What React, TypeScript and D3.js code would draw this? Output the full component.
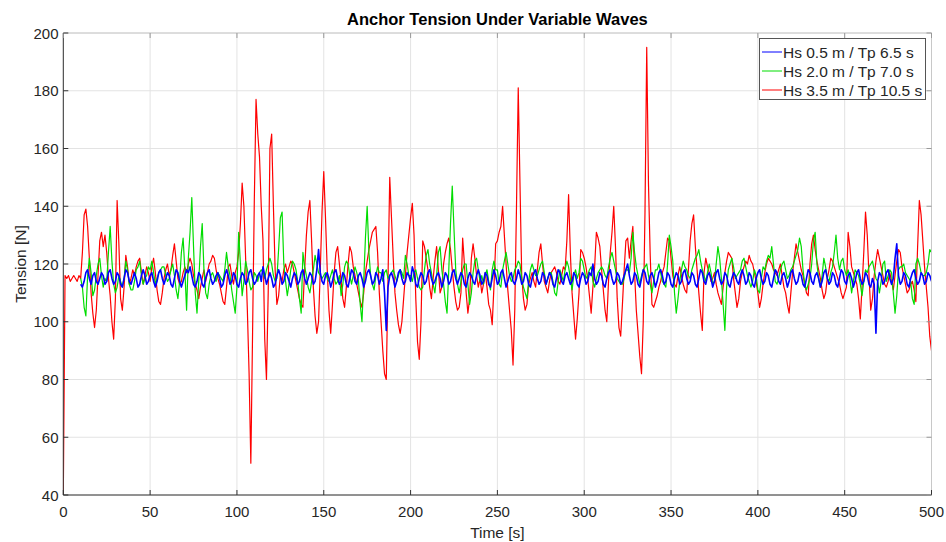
import React from "react";
import * as d3 from "d3";

// chart text
const chartTitle = "Anchor Tension Under Variable Waves";
const xLabel = "Time [s]";
const yLabel = "Tension [N]";
const xTicks = [0, 50, 100, 150, 200, 250, 300, 350, 400, 450, 500];
const yTicks = [40, 60, 80, 100, 120, 140, 160, 180, 200];
const seriesNames = ["Hs 0.5 m / Tp 6.5 s", "Hs 2.0 m / Tp 7.0 s", "Hs 3.5 m / Tp 10.5 s"];

// sampling of the series (seconds)
const sampleStep = 1;
const blueStart = 10;
const greenStart = 10;
const redStart = 0;

// Hs 0.5 m / Tp 6.5 s, t = 10..500 s
const blueTension = [
  113, 112, 114, 117, 118, 115, 113, 116, 117, 114,
  113, 115, 117, 116, 113, 114, 117, 118, 115, 113,
  114, 117, 116, 113, 112, 115, 118, 117, 114, 113,
  115, 117, 115, 112, 113, 116, 118, 116, 113, 114,
  116, 117, 114, 112, 114, 117, 118, 115, 113, 115,
  117, 116, 113, 112, 115, 118, 117, 114, 112, 114,
  116, 118, 117, 119, 116, 113, 112, 114, 117, 116,
  113, 112, 115, 117, 118, 115, 113, 114, 116, 117,
  115, 112, 113, 116, 118, 116, 113, 114, 117, 116,
  113, 112, 115, 117, 116, 113, 114, 117, 118, 115,
  113, 114, 116, 117, 114, 119, 116, 113, 115, 117,
  115, 112, 113, 116, 118, 116, 113, 114, 117, 116,
  114, 112, 115, 117, 116, 113, 114, 117, 118, 115,
  113, 115, 117, 116, 113, 114, 118, 125, 117, 114,
  113, 116, 117, 115, 112, 114, 117, 118, 115, 113,
  114, 117, 116, 113, 112, 115, 118, 117, 114, 113,
  116, 117, 115, 112, 114, 117, 118, 116, 113, 114,
  117, 116, 113, 115, 118, 110, 97, 112, 116, 117,
  115, 112, 114, 117, 118, 115, 113, 114, 117, 116,
  114, 119, 117, 113, 112, 115, 117, 116, 113, 114,
  117, 118, 115, 113, 114, 116, 117, 115, 112, 114,
  117, 116, 113, 114, 117, 118, 115, 113, 115, 117,
  116, 113, 112, 115, 117, 116, 114, 113, 116, 118,
  116, 113, 114, 117, 116, 113, 112, 115, 118, 116,
  113, 114, 117, 118, 115, 112, 114, 116, 117, 114,
  113, 115, 118, 116, 113, 114, 117, 116, 113, 112,
  115, 117, 118, 115, 113, 114, 117, 116, 113, 115,
  117, 116, 113, 112, 115, 118, 117, 114, 113, 116,
  117, 115, 113, 114, 117, 116, 113, 112, 115, 117,
  116, 113, 114, 117, 116, 120, 115, 113, 114, 117,
  116, 113, 112, 115, 117, 118, 115, 113, 114, 117,
  116, 113, 114, 116, 118, 120, 116, 113, 114, 117,
  116, 113, 112, 115, 118, 117, 114, 113, 116, 117,
  115, 112, 114, 117, 118, 116, 113, 114, 117, 116,
  113, 112, 115, 117, 116, 113, 114, 117, 118, 115,
  113, 114, 117, 116, 113, 112, 115, 118, 117, 114,
  113, 116, 117, 115, 112, 114, 117, 118, 115, 113,
  114, 117, 116, 113, 112, 115, 117, 116, 114, 113,
  116, 118, 116, 113, 114, 117, 116, 113, 112, 115,
  117, 118, 115, 113, 114, 117, 116, 113, 112, 115,
  118, 117, 114, 113, 116, 117, 115, 112, 114, 117,
  118, 115, 113, 114, 117, 116, 113, 112, 115, 118,
  117, 114, 113, 116, 117, 115, 112, 114, 117, 118,
  115, 113, 114, 117, 116, 113, 112, 115, 118, 117,
  114, 113, 116, 117, 115, 112, 114, 117, 118, 115,
  113, 114, 117, 116, 113, 112, 115, 113, 96, 114,
  117, 116, 113, 114, 117, 118, 115, 113, 115, 122,
  127, 116, 113, 114, 117, 116, 113, 112, 115, 117,
  118, 115, 113, 114, 117, 116, 113, 114, 117, 116,
  114,
];

// Hs 2.0 m / Tp 7.0 s, t = 10..500 s
const greenTension = [
  115, 112, 105, 102, 116, 122, 117, 109, 111, 116,
  120, 122, 116, 112, 115, 114, 124, 133, 121, 113,
  110, 112, 116, 114, 112, 115, 121, 118, 113, 111,
  111, 114, 118, 119, 121, 116, 113, 115, 116, 119,
  118, 121, 117, 113, 115, 117, 118, 119, 119, 116,
  114, 115, 118, 120, 116, 111, 108, 114, 124, 129,
  118, 104, 122, 131, 143, 126, 110, 103, 114, 126,
  134, 118, 110, 108, 113, 116, 117, 115, 114, 117,
  116, 115, 114, 118, 124, 119, 116, 111, 107, 103,
  112, 131, 120, 109, 114, 121, 118, 114, 111, 112,
  117, 116, 114, 117, 118, 117, 115, 118, 120, 122,
  120, 116, 114, 115, 125, 136, 138, 120, 114, 109,
  113, 118, 121, 120, 118, 114, 108, 103, 124, 119,
  116, 112, 110, 114, 118, 123, 120, 117, 116, 115,
  116, 117, 115, 114, 116, 118, 115, 113, 114, 116,
  109, 113, 119, 121, 120, 116, 113, 116, 119, 117,
  114, 106, 100, 114, 129, 140, 124, 116, 113, 111,
  116, 119, 117, 117, 114, 117, 118, 115, 116, 117,
  118, 116, 114, 116, 118, 117, 115, 123, 120, 116,
  116, 114, 117, 118, 115, 112, 111, 112, 118, 123,
  125, 120, 117, 113, 110, 116, 124, 126, 118, 113,
  107, 103, 118, 134, 147, 132, 118, 113, 110, 114,
  118, 120, 120, 113, 106, 110, 117, 121, 122, 118,
  114, 116, 113, 116, 118, 114, 111, 118, 121, 118,
  118, 113, 112, 118, 121, 124, 120, 116, 114, 115,
  118, 119, 121, 120, 115, 112, 110, 108, 114, 118,
  120, 118, 116, 116, 118, 120, 121, 117, 113, 115,
  117, 117, 114, 110, 109, 114, 118, 116, 114, 118,
  121, 119, 115, 111, 116, 118, 115, 117, 122, 121,
  118, 115, 116, 118, 119, 114, 112, 115, 117, 118,
  119, 118, 116, 115, 119, 122, 124, 121, 118, 115,
  114, 113, 113, 115, 118, 118, 117, 122, 131, 124,
  119, 116, 113, 116, 118, 119, 120, 116, 113, 110,
  114, 118, 118, 120, 117, 114, 113, 112, 120, 130,
  126, 121, 110, 103, 108, 114, 118, 121, 119, 118,
  116, 115, 118, 120, 122, 123, 125, 121, 118, 116,
  114, 117, 120, 117, 113, 114, 120, 126, 122, 115,
  106, 97, 112, 118, 120, 122, 119, 115, 116, 117,
  118, 121, 122, 119, 116, 114, 112, 114, 118, 116,
  111, 110, 115, 119, 118, 121, 123, 122, 126, 120,
  114, 113, 115, 118, 120, 121, 118, 115, 116, 118,
  119, 121, 123, 125, 129, 126, 118, 113, 111, 113,
  115, 120, 128, 131, 120, 115, 112, 116, 122, 119,
  115, 114, 117, 119, 124, 130, 122, 118, 121, 122,
  118, 116, 118, 115, 110, 114, 118, 117, 116, 113,
  109, 114, 118, 117, 119, 120, 121, 118, 115, 114,
  110, 114, 120, 121, 114, 116, 118, 117, 110, 103,
  109, 118, 119, 119, 120, 117, 116, 115, 114, 108,
  106, 120, 122, 120, 117, 116, 116, 117, 120, 125,
  124,
];

// Hs 3.5 m / Tp 10.5 s, t = 0..500 s
const redTension = [
  40, 116, 115, 116, 114, 115, 116, 115, 114, 116,
  115, 124, 137, 139, 133, 122, 110, 103, 98, 104,
  116, 128, 131, 126, 130, 124, 115, 109, 100, 94,
  108, 142, 127, 108, 104, 112, 123, 119, 113, 115,
  118, 116, 119, 121, 122, 117, 113, 116, 119, 117,
  114, 119, 122, 117, 111, 107, 106, 110, 115, 118,
  120, 116, 118, 123, 127, 121, 115, 113, 114, 117,
  119, 117, 120, 122, 120, 116, 113, 111, 108, 112,
  115, 118, 114, 117, 120, 121, 123, 122, 118, 115,
  113, 110, 107, 106, 112, 119, 120, 116, 113, 117,
  119, 124, 134, 148, 140, 122, 104, 82, 51, 96,
  142, 177, 165, 157, 140, 128, 94, 80, 110, 160,
  165, 140, 118, 106, 109, 116, 114, 118, 120, 117,
  119, 121, 120, 117, 114, 111, 108, 106, 105, 118,
  130, 138, 142, 128, 112, 102, 96, 100, 118, 138,
  152, 136, 118, 104, 96, 106, 117, 124, 126, 120,
  114, 108, 105, 112, 120, 126, 124, 119, 116, 113,
  110, 107, 105, 110, 117, 121, 125, 128, 131, 132,
  133, 124, 110, 100, 90, 82, 80, 115, 150, 136,
  122, 110, 104, 99, 96, 100, 108, 116, 124, 130,
  136, 141, 130, 108, 93, 87, 100, 128, 126, 122,
  118, 112, 108, 115, 121, 126, 118, 110, 112, 120,
  124, 127, 129, 125, 118, 112, 107, 104, 105, 110,
  129, 120, 110, 103, 108, 122, 127, 122, 116, 112,
  115, 110, 113, 117, 112, 106, 104, 99, 112, 127,
  128, 131, 133, 140, 130, 120, 111, 104, 97, 85,
  104, 140, 181, 148, 116, 108, 104, 106, 113, 115,
  117, 114, 112, 118, 124, 127, 120, 114, 112, 110,
  114, 117, 118, 119, 117, 114, 113, 116, 119, 118,
  128, 144, 124, 110, 102, 94, 101, 110, 125, 124,
  122, 119, 115, 109, 103, 112, 119, 131, 129, 126,
  118, 111, 104, 100, 114, 124, 131, 140, 126, 108,
  98, 95, 106, 118, 128, 129, 122, 128, 133, 117,
  104, 96, 88, 82, 100, 138, 195, 148, 123, 106,
  105, 107, 109, 112, 114, 117, 119, 124, 129, 128,
  122, 116, 113, 112, 116, 119, 116, 113, 111, 110,
  118, 128, 134, 137, 126, 118, 110, 103, 97, 117,
  122, 119, 117, 114, 115, 117, 113, 110, 108, 106,
  112, 117, 121, 124, 123, 122, 115, 110, 105, 108,
  114, 117, 119, 121, 120, 123, 121, 120, 117, 114,
  110, 105, 108, 113, 117, 120, 122, 121, 120, 118,
  117, 116, 118, 120, 116, 112, 110, 106, 103, 110,
  117, 122, 127, 124, 121, 118, 116, 113, 110, 109,
  120, 127, 130, 125, 121, 118, 115, 111, 108, 110,
  115, 118, 122, 121, 119, 117, 115, 113, 110, 108,
  110, 112, 131, 126, 119, 117, 115, 113, 108, 101,
  112, 124, 138, 130, 116, 104, 108, 116, 121, 125,
  122, 119, 116, 113, 112, 114, 117, 114, 111, 116,
  121, 125, 124, 119, 116, 113, 110, 111, 113, 114,
  111, 107, 126, 142, 137, 128, 119, 112, 105, 95,
  90,
];

const seriesColors = ["#0000ff", "#00dd00", "#ff0000"];
const seriesWidths = [1.6, 1.2, 1.2];

const W = 946;
const H = 542;
const margin = { left: 63.3, right: 14.5, top: 33, bottom: 47 };
const font = "'Liberation Sans', Arial, Helvetica, sans-serif";
const textColor = "#262626";

export default function App() {
  const x = d3.scaleLinear().domain([0, 500]).range([margin.left, W - margin.right]);
  const y = d3.scaleLinear().domain([40, 200]).range([H - margin.bottom, margin.top]);
  const [x0, x1] = x.range();
  const [y0, y1] = y.range();

  const makeLine = (start: number) =>
    d3
      .line<number>()
      .x((_, i) => x(start + i * sampleStep))
      .y((d) => y(d));

  // draw order: red underneath, blue on top
  const series = [
    { name: seriesNames[2], color: seriesColors[2], w: seriesWidths[2], d: makeLine(redStart)(redTension) },
    { name: seriesNames[1], color: seriesColors[1], w: seriesWidths[1], d: makeLine(greenStart)(greenTension) },
    { name: seriesNames[0], color: seriesColors[0], w: seriesWidths[0], d: makeLine(blueStart)(blueTension) },
  ];

  const legendX = 759.5;
  const legendY = 38.5;

  return (
    <svg
      width={W}
      height={H}
      style={{ position: "absolute", left: 0, top: 0, background: "#fff", fontFamily: font }}
    >
      <rect x={0} y={0} width={W} height={H} fill="#fff" />
      <defs>
        <clipPath id="plot-clip">
          <rect x={x0} y={y1} width={x1 - x0} height={y0 - y1} />
        </clipPath>
      </defs>

      {/* grid */}
      {xTicks.map((t) => (
        <line key={"gx" + t} x1={x(t)} x2={x(t)} y1={y0} y2={y1} stroke="#e3e3e3" />
      ))}
      {yTicks.map((t) => (
        <line key={"gy" + t} x1={x0} x2={x1} y1={y(t)} y2={y(t)} stroke="#e3e3e3" />
      ))}

      {/* data */}
      <g clipPath="url(#plot-clip)">
        {series.map((s) => (
          <path key={s.name} d={s.d || ""} fill="none" stroke={s.color} strokeWidth={s.w} strokeLinejoin="round" />
        ))}
      </g>

      {/* box: light top / right, dark left / bottom */}
      <line x1={x0} x2={x1} y1={y1} y2={y1} stroke="#c8c8c8" />
      <line x1={x1} x2={x1} y1={y1} y2={y0} stroke="#c8c8c8" />
      <line x1={x0} x2={x0} y1={y1} y2={y0} stroke="#333" />
      <line x1={x0} x2={x1} y1={y0} y2={y0} stroke="#333" />

      {/* ticks */}
      {xTicks.map((t) => (
        <g key={"tx" + t}>
          <line x1={x(t)} x2={x(t)} y1={y0} y2={y0 - 5} stroke="#333" />
          <line x1={x(t)} x2={x(t)} y1={y1} y2={y1 + 5} stroke="#999" />
          <text x={x(t)} y={517} textAnchor="middle" fontSize={15} fill={textColor}>
            {t}
          </text>
        </g>
      ))}
      {yTicks.map((t) => (
        <g key={"ty" + t}>
          <line x1={x0} x2={x0 + 5} y1={y(t)} y2={y(t)} stroke="#333" />
          <line x1={x1} x2={x1 - 5} y1={y(t)} y2={y(t)} stroke="#999" />
          <text x={58.5} y={y(t) + 5.5} textAnchor="end" fontSize={15} fill={textColor}>
            {t}
          </text>
        </g>
      ))}

      {/* labels */}
      <text x={(x0 + x1) / 2} y={24.5} textAnchor="middle" fontSize={16.5} fontWeight="bold" fill="#000">
        {chartTitle}
      </text>
      <text x={(x0 + x1) / 2} y={538} textAnchor="middle" fontSize={15.5} fill={textColor}>
        {xLabel}
      </text>
      <text
        transform={`translate(26,${(y0 + y1) / 2}) rotate(-90)`}
        textAnchor="middle"
        fontSize={15.5}
        fill={textColor}
      >
        {yLabel}
      </text>

      {/* legend */}
      <rect x={legendX} y={legendY} width={166} height={61} fill="#fff" stroke="#555" strokeWidth={1} />
      {seriesNames.map((name, i) => {
        const cy = 52 + i * 19;
        return (
          <g key={"lg" + name}>
            <line x1={762} x2={782} y1={cy} y2={cy} stroke={seriesColors[i]} strokeWidth={1} />
            <text x={783} y={cy + 5.5} fontSize={15.5} fill={textColor}>
              {name}
            </text>
          </g>
        );
      })}
    </svg>
  );
}
